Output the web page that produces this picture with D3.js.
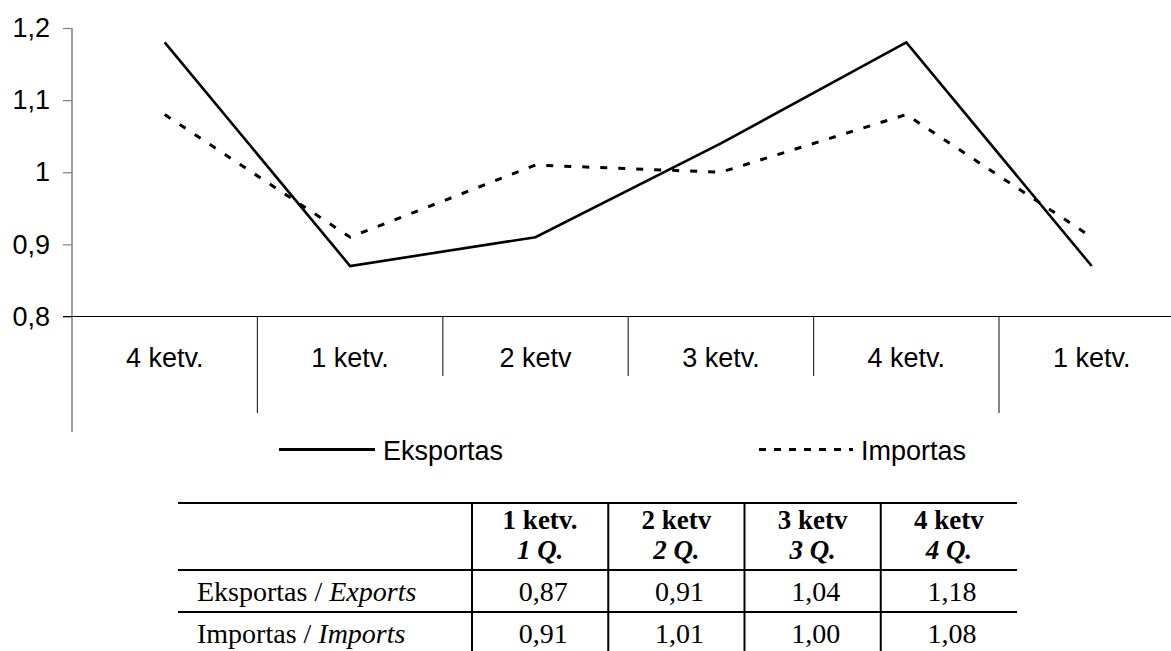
<!DOCTYPE html>
<html><head><meta charset="utf-8">
<script src="https://cdn.jsdelivr.net/npm/d3@7"></script>
<style>body{margin:0;background:#fff}svg{display:block}</style>
</head><body><svg id="c" width="1171" height="651"></svg>
<script>
// ---- data ----
const categories = ["4 ketv.", "1 ketv.", "2 ketv", "3 ketv.", "4 ketv.", "1 ketv."];
const yearGroups = [1, 4, 1];               // categories per (unlabelled) year group
const eksportas = [1.18, 0.87, 0.91, 1.04, 1.18, 0.87];
const importas  = [1.08, 0.91, 1.01, 1.00, 1.08, 0.91];
const yTicks = [0.8, 0.9, 1.0, 1.1, 1.2];
const seriesNames = ["Eksportas", "Importas"];
const tableHeadTop = ["1 ketv.", "2 ketv", "3 ketv", "4 ketv"];
const tableHeadBottom = ["1 Q.", "2 Q.", "3 Q.", "4 Q."];
const tableRowLabels = [["Eksportas", "Exports"], ["Importas", "Imports"]];
const tableExports = [0.87, 0.91, 1.04, 1.18];
const tableImports = [0.91, 1.01, 1.00, 1.08];

// ---- drawing ----
const svg = d3.select("#c");
const sans = "'Liberation Sans', Arial, sans-serif";
const serif = "'Liberation Serif', 'Times New Roman', serif";

const x = d3.scaleBand().domain(d3.range(categories.length)).range([72, 1184.4]).paddingInner(0).paddingOuter(0);
const y = d3.scaleLinear().domain([0.8, 1.2]).range([316.5, 28]);
const bw = x.bandwidth();

// y axis
const yAxis = svg.append("g").attr("transform", "translate(72,0)")
  .call(d3.axisLeft(y).tickValues(yTicks).tickSize(9).tickPadding(13)
        .tickFormat(d => String(+d.toFixed(1)).replace(".", ",")));
yAxis.select(".domain").remove();
yAxis.selectAll(".tick line").attr("stroke", "#808080").attr("stroke-width", 1.2);
yAxis.selectAll(".tick text").attr("font-family", sans).attr("font-size", 27).attr("fill", "#000");
svg.append("line").attr("x1", 72).attr("x2", 72).attr("y1", y(1.2)).attr("y2", 432)
  .attr("stroke", "#808080").attr("stroke-width", 1.5);

// category axis line
svg.append("line").attr("x1", 63).attr("x2", 1171).attr("y1", y(0.8)).attr("y2", y(0.8))
  .attr("stroke", "#000").attr("stroke-width", 1.2);

// separators: long at year-group boundaries, short elsewhere
const groupBounds = new Set();
let acc = 0;
yearGroups.forEach(n => { acc += n; groupBounds.add(acc); });
d3.range(1, categories.length).forEach(i => {
  const long = groupBounds.has(i);
  svg.append("line").attr("x1", x(i)).attr("x2", x(i))
    .attr("y1", y(0.8)).attr("y2", long ? 413 : 376)
    .attr("stroke", "#333").attr("stroke-width", 1.2);
});

// category labels
svg.append("g").selectAll("text").data(categories).join("text")
  .attr("x", (d, i) => x(i) + bw / 2).attr("y", 366.5)
  .attr("text-anchor", "middle").attr("font-family", sans).attr("font-size", 27)
  .text(d => d);

// lines
const line = d3.line().x((d, i) => x(i) + bw / 2).y(d => y(d));
svg.append("path").datum(importas).attr("d", line).attr("fill", "none")
  .attr("stroke", "#000").attr("stroke-width", 3).attr("stroke-dasharray", "7,11");
svg.append("path").datum(eksportas).attr("d", line).attr("fill", "none")
  .attr("stroke", "#000").attr("stroke-width", 2.6).attr("stroke-linejoin", "miter");

// legend
const legendItems = [
  { name: seriesNames[0], x1: 279, x2: 375, dash: null, w: 2.8 },
  { name: seriesNames[1], x1: 759, x2: 853, dash: "7,8", w: 3 }
];
legendItems.forEach(it => {
  svg.append("line").attr("x1", it.x1).attr("x2", it.x2).attr("y1", 449.5).attr("y2", 449.5)
    .attr("stroke", "#000").attr("stroke-width", it.w).attr("stroke-dasharray", it.dash);
  svg.append("text").attr("x", it.x2 + 8).attr("y", 460).attr("font-family", sans)
    .attr("font-size", 27).text(it.name);
});

// table
const tx = d3.scaleBand().domain(d3.range(tableHeadTop.length)).range([472, 1017]);
const tLeft = 178, tRight = 1017;
const rowLines = [503, 570, 612, 654];
const tg = svg.append("g");
rowLines.forEach(yy => tg.append("line").attr("x1", tLeft).attr("x2", tRight)
  .attr("y1", yy).attr("y2", yy).attr("stroke", "#000").attr("stroke-width", 2));
d3.range(tableHeadTop.length).forEach(i => tg.append("line")
  .attr("x1", tx(i)).attr("x2", tx(i)).attr("y1", 503).attr("y2", 660)
  .attr("stroke", "#000").attr("stroke-width", 2));

// header cells: two lines each
tableHeadTop.forEach((h, i) => {
  const cx = tx(i) + tx.bandwidth() / 2;
  tg.append("text").attr("x", cx).attr("y", 529)
    .attr("text-anchor", "middle").attr("font-family", serif).attr("font-size", 27)
    .attr("font-weight", "bold").text(h);
  tg.append("text").attr("x", cx).attr("y", 559)
    .attr("text-anchor", "middle").attr("font-family", serif).attr("font-size", 27)
    .attr("font-weight", "bold").attr("font-style", "italic").text(tableHeadBottom[i]);
});

const rows = [tableExports, tableImports];
const rowBase = [600.5, 642.5];
rows.forEach((vals, r) => {
  const t = tg.append("text").attr("x", 197).attr("y", rowBase[r])
    .attr("font-family", serif).attr("font-size", 28);
  t.append("tspan").text(tableRowLabels[r][0] + " / ");
  t.append("tspan").attr("font-style", "italic").text(tableRowLabels[r][1]);
  tg.selectAll("text.v" + r).data(vals).join("text").attr("class", "v" + r)
    .attr("x", (d, i) => tx(i) + tx.bandwidth() / 2 + 3).attr("y", rowBase[r])
    .attr("text-anchor", "middle").attr("font-family", serif).attr("font-size", 28)
    .text(d => d.toFixed(2).replace(".", ","));
});
</script></body></html>
